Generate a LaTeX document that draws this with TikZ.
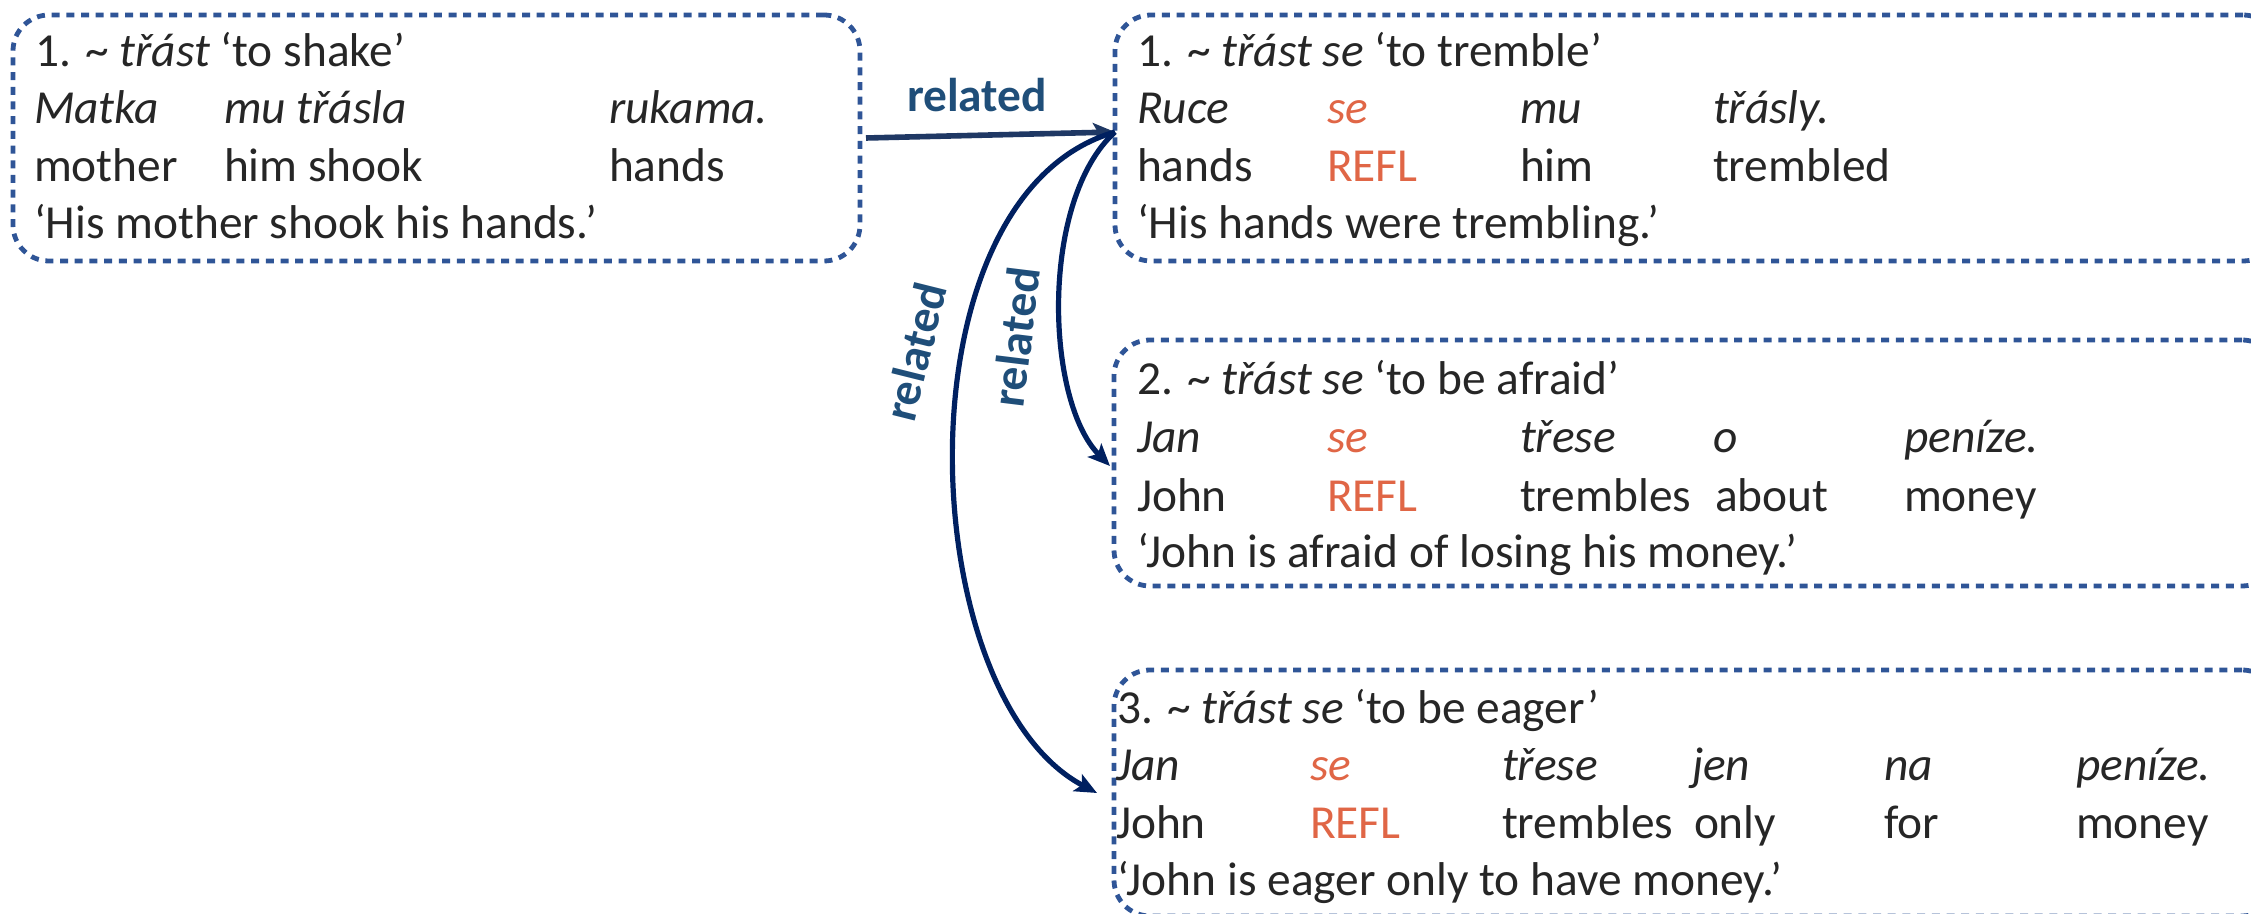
\documentclass[tikz,border=0pt]{standalone}
\usepackage{fontspec}
\setmainfont{Carlito}
\usetikzlibrary{arrows.meta,calc}

\definecolor{boxblue}{RGB}{47,85,151}
\definecolor{ink}{RGB}{38,38,38}
\definecolor{reflcol}{RGB}{224,102,70}
\definecolor{relblue}{RGB}{31,78,121}
\definecolor{arrowA}{RGB}{31,56,100}
\definecolor{arrowB}{RGB}{0,32,96}

\newcommand{\glossfont}{\fontsize{23.7pt}{28pt}\selectfont}

\tikzset{
  sensebox/.style={rectangle, draw=boxblue, line width=2.4pt,
    dash pattern=on 4pt off 3.35pt, rounded corners=18pt,
    inner sep=0pt, outer sep=0pt, anchor=north west,
    minimum width=#1, minimum height=123pt},
  txt/.style={anchor=base west, inner sep=0pt, outer sep=0pt, text=ink, font=\glossfont},
  obj/.style={txt, font=\glossfont\itshape},
  refl/.style={txt, text=reflcol},
  reflobj/.style={obj, text=reflcol},
  rel/.style={inner sep=0pt, text=relblue, font=\glossfont\bfseries},
  link/.style={line width=2.6pt, draw=arrowB,
    -{Stealth[length=11pt,width=9.5pt,inset=2.5pt]}},
}

\begin{document}
\begin{tikzpicture}[x=0.5pt,y=-0.5pt]
\useasboundingbox (0,0) rectangle (2251,914);
\clip (0,0) rectangle (2251,914);

% sense boxes
\node[sensebox=423.5pt] (b1) at (13,15) {};
\node[sensebox=582pt] (bA) at (1115,15) {};
\node[sensebox=582pt] (bB) at (1114,340) {};
\node[sensebox=582pt] (bC) at (1114,670) {};

% třást 'to shake'
\node[txt] (s1) at (35,67) {1. \textasciitilde{} \textit{třást} ‘to shake’};
\node[obj] (s2a) at (34,124) {Matka};
\node[obj] (s2b) at (224,124) {mu třásla};
\node[obj] (s2c) at (609,124) {rukama.};
\node[txt] (s3a) at (34,182) {mother};
\node[txt] (s3b) at (224,182) {him shook};
\node[txt] (s3c) at (609,182) {hands};
\node[txt] (s4) at (34,239) {‘His mother shook his hands.’};

% třást se 'to tremble'
\node[txt] (a1) at (1137,67) {1. \textasciitilde{} \textit{třást se} ‘to tremble’};
\node[obj] (a2a) at (1137,124) {Ruce};
\node[reflobj] (a2b) at (1327,124) {se};
\node[obj] (a2c) at (1520,124) {mu};
\node[obj] (a2d) at (1713,124) {třásly.};
\node[txt] (a3a) at (1137,182) {hands};
\node[refl] (a3b) at (1327,182) {REFL};
\node[txt] (a3c) at (1520,182) {him};
\node[txt] (a3d) at (1713,182) {trembled};
\node[txt] (a4) at (1137,239) {‘His hands were trembling.’};

% třást se 'to be afraid'
\node[txt] (f1) at (1137,395) {2. \textasciitilde{} \textit{třást se} ‘to be afraid’};
\node[obj] (f2a) at (1137,453) {Jan};
\node[reflobj] (f2b) at (1327,453) {se};
\node[obj] (f2c) at (1520,453) {třese};
\node[obj] (f2d) at (1713,453) {o};
\node[obj] (f2e) at (1904,453) {peníze.};
\node[txt] (f3a) at (1137,512) {John};
\node[refl] (f3b) at (1327,512) {REFL};
\node[txt] (f3c) at (1520,512) {trembles};
\node[txt] (f3d) at (1715,512) {about};
\node[txt] (f3e) at (1904,512) {money};
\node[txt] (f4) at (1137,568) {‘John is afraid of losing his money.’};

% třást se 'to be eager'
\node[txt] (e1) at (1117,723) {3. \textasciitilde{} \textit{třást se} ‘to be eager’};
\node[obj] (e2a) at (1116,780) {Jan};
\node[reflobj] (e2b) at (1310,780) {se};
\node[obj] (e2c) at (1502,780) {třese};
\node[obj] (e2d) at (1692,780) {jen};
\node[obj] (e2e) at (1884,780) {na};
\node[obj] (e2f) at (2076,780) {peníze.};
\node[txt] (e3a) at (1116,838) {John};
\node[refl] (e3b) at (1310,838) {REFL};
\node[txt] (e3c) at (1502,838) {trembles};
\node[txt] (e3d) at (1694,838) {only};
\node[txt] (e3e) at (1884,838) {for};
\node[txt] (e3f) at (2076,838) {money};
\node[txt] (e4) at (1117,895) {‘John is eager only to have money.’};

% connectors
\coordinate (hub) at ($(bA.west)+(0,-6)$);
\coordinate (eagerTip) at ($(bC.west)+(-17,0)$);
\coordinate (afraidTip) at ($(bB.west)+(-4,3)$);
\coordinate (shakeOut) at ($(b1.east)+(6,0)$);

\draw[link, draw=arrowA, line width=2.8pt] (shakeOut) -- (hub);
\draw[link] (hub) .. controls (1040,200) and (1045,400) .. (afraidTip);
\draw[link] (hub) .. controls (895,195) and (912,695) .. (eagerTip);

% relation labels
\node[rel, anchor=base] (r0) at (977,112) {related};
\node[rel, rotate=76] (r1) at (915,352) {related};
\node[rel, rotate=83] (r2) at (1016,337) {related};
\end{tikzpicture}
\end{document}
